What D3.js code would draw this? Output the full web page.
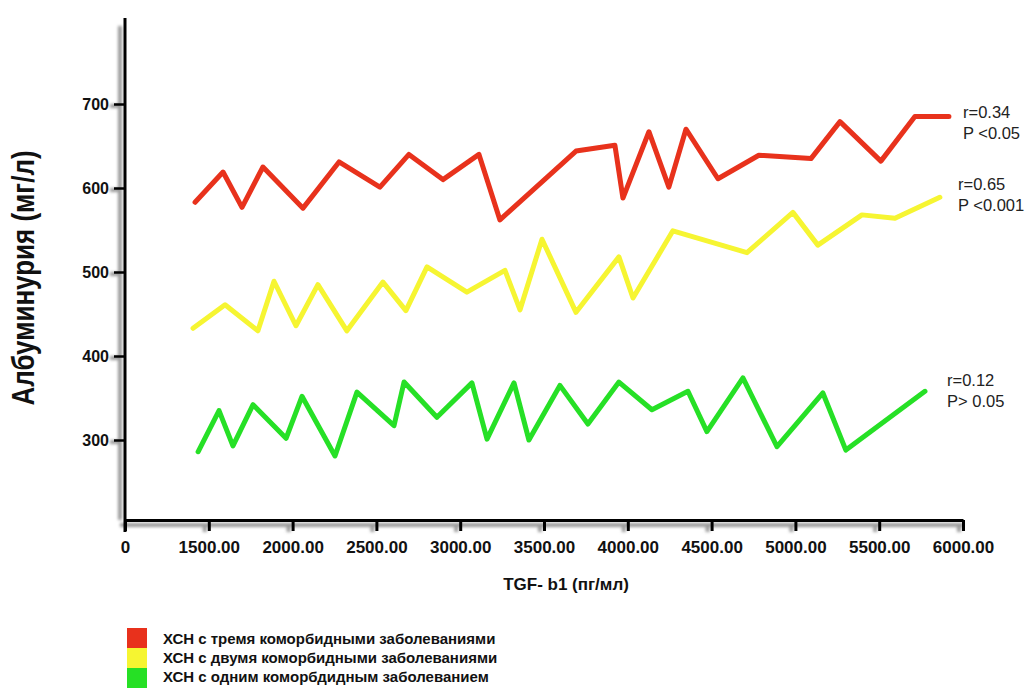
<!DOCTYPE html>
<html><head><meta charset="utf-8">
<script src="https://cdn.jsdelivr.net/npm/d3@7"></script>
<style>body{margin:0;background:#fff}svg{display:block}</style>
</head><body>
<svg id="c" width="1029" height="689"></svg>
<script>
// ---- data (TGF-b1 pg/ml, albuminuria mg/l) ----
const redX = [1418,1585,1698,1823,2062,2277,2521,2694,2897,3112,3237,3691,3923,3971,4126,4245,4347,4538,4782,5093,5266,5510,5713,5916];
const redY = [583,619,577,625,576,631,601,640,610,640,562,644,651,588,667,601,670,611,639,635,679,632,685,685];
const yellowX = [1406,1597,1793,1889,2020,2151,2324,2539,2676,2802,3040,3267,3357,3488,3691,3947,4031,4269,4711,4985,5134,5397,5594,5862];
const yellowY = [433,461,430,489,436,485,430,488,454,506,476,502,455,539,452,518,469,549,523,571,532,568,564,589];
const greenX = [1436,1561,1644,1764,1961,2056,2253,2384,2605,2665,2861,3070,3160,3321,3410,3595,3762,3947,4144,4359,4472,4687,4890,5164,5301,5773];
const greenY = [286,335,293,342,302,352,281,357,317,369,327,368,301,368,300,365,319,369,336,358,310,374,292,356,288,358];
const xTicks = [1000,1500,2000,2500,3000,3500,4000,4500,5000,5500,6000];
const xTickLabels = ["0","1500.00","2000.00","2500.00","3000.00","3500.00","4000.00","4500.00","5000.00","5500.00","6000.00"];
const yTicks = [300,400,500,600,700];
const seriesNames = ["ХСН  с тремя коморбидными заболеваниями","ХСН  с двумя коморбидными заболеваниями","ХСН с одним коморбдидным заболеванием"];
const seriesColors = ["#e8311c","#f6f531","#26e025"];
const annotations = [["r=0.34","P <0.05"],["r=0.65","P <0.001"],["r=0.12","P> 0.05"]];

const FONT = "Liberation Sans, Arial, sans-serif";
const svg = d3.select("#c");
const x = d3.scaleLinear().domain([1000,6000]).range([125,963]);
const y = d3.scaleLinear().domain([300,700]).range([440,104]);
const yBottom = 520, yTop = 18;

const defs = svg.append("defs");
defs.append("filter").attr("id","sh").attr("x","-50%").attr("y","-50%").attr("width","200%").attr("height","200%")
  .append("feGaussianBlur").attr("stdDeviation",1.8);
defs.append("filter").attr("id","soft").append("feGaussianBlur").attr("stdDeviation",0.5);

// shadows of axes
const shadow = svg.append("g").attr("filter","url(#sh)").attr("stroke","#9a9a9a").attr("stroke-width",4).attr("fill","none");
shadow.append("line").attr("x1",120).attr("x2",120).attr("y1",yTop+8).attr("y2",yBottom);
shadow.append("line").attr("x1",120).attr("x2",963).attr("y1",yBottom+5).attr("y2",yBottom+5);
yTicks.forEach(t=>shadow.append("line").attr("x1",110).attr("x2",120).attr("y1",y(t)+2).attr("y2",y(t)+2));
xTicks.slice(1).forEach(t=>shadow.append("line").attr("x1",x(t)-4).attr("x2",x(t)-4).attr("y1",yBottom+4).attr("y2",yBottom+12));

// axes
const xAxis = d3.axisBottom(x).tickValues(xTicks).tickFormat((d,i)=>xTickLabels[i]).tickSize(11).tickSizeOuter(0).tickPadding(10);
const gx = svg.append("g").attr("transform",`translate(0,${yBottom})`).call(xAxis);
gx.select(".domain").attr("stroke","#000").attr("stroke-width",3);
gx.selectAll(".tick line").attr("stroke","#000").attr("stroke-width",3);
gx.selectAll(".tick text").attr("font-family",FONT).attr("font-weight","bold").attr("font-size",17).attr("fill","#111");

const yAxis = d3.axisLeft(y).tickValues(yTicks).tickSize(11).tickSizeOuter(0).tickPadding(5);
const gy = svg.append("g").attr("transform","translate(125,0)").call(yAxis);
gy.select(".domain").remove();
gy.append("line").attr("x1",0).attr("x2",0).attr("y1",yTop).attr("y2",yBottom+12).attr("stroke","#000").attr("stroke-width",3);
gy.selectAll(".tick line").attr("stroke","#000").attr("stroke-width",2.5);
gy.selectAll(".tick text").attr("font-family",FONT).attr("font-weight","bold").attr("font-size",16).attr("fill","#111");

// axis titles
svg.append("text").attr("transform","translate(34,278) scale(1.2,1) rotate(-90)").attr("text-anchor","middle")
  .attr("font-family",FONT).attr("font-size",26).attr("font-weight","bold").attr("fill","#111")
  .text("Албуминурия (мг/л)");
svg.append("text").attr("x",566).attr("y",590).attr("text-anchor","middle")
  .attr("font-family",FONT).attr("font-size",17).attr("font-weight","bold").attr("fill","#111")
  .text("TGF- b1 (пг/мл)");

// lines
const series = [[redX,redY],[yellowX,yellowY],[greenX,greenY]];
const line = d3.line().x(d=>x(d[0])).y(d=>y(d[1]));
series.forEach((s,i)=>{
  const pts = s[0].map((v,j)=>[v,s[1][j]]);
  svg.append("path").datum(pts).attr("d",line).attr("fill","none")
    .attr("stroke",seriesColors[i]).attr("stroke-width",5).attr("stroke-linejoin","round").attr("stroke-linecap","round")
    .attr("filter","url(#soft)");
});

// annotations
const annPos = [[963,118],[958,190],[947,386]];
annotations.forEach((a,i)=>{
  const t = svg.append("text").attr("font-family",FONT).attr("font-size",16.5).attr("fill","#222");
  a.forEach((s,k)=>t.append("tspan").attr("x",annPos[i][0]).attr("y",annPos[i][1]+k*21).text(s));
});

// legend
seriesNames.forEach((n,i)=>{
  svg.append("rect").attr("x",127).attr("y",628+i*20).attr("width",20).attr("height",20).attr("fill",seriesColors[i]);
  svg.append("text").attr("x",163).attr("y",644+i*19).attr("font-family",FONT)
    .attr("font-size",15).attr("font-weight","bold").attr("fill","#111").text(n);
});
</script>
</body></html>
